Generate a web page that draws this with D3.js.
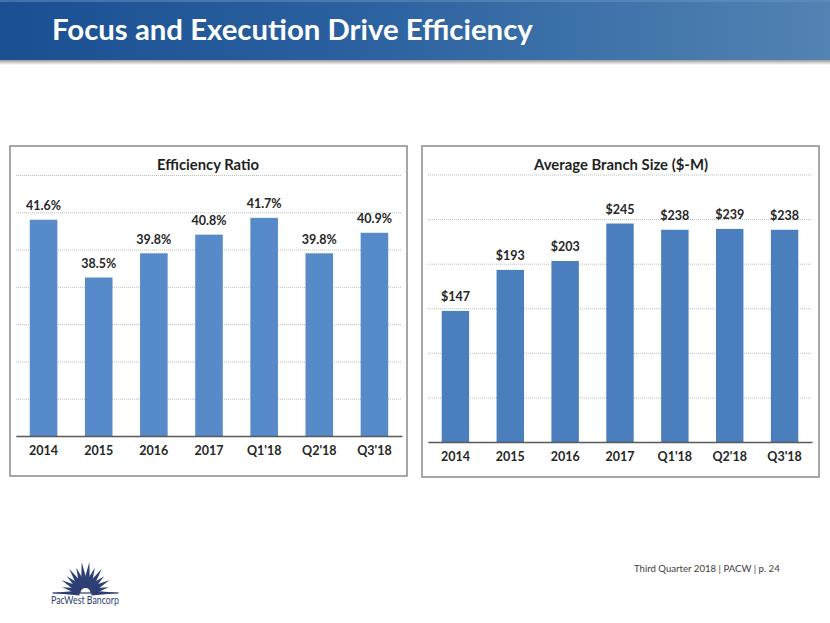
<!DOCTYPE html>
<html>
<head>
<meta charset="utf-8">
<script src="https://cdn.jsdelivr.net/npm/d3@7"></script>
<style>
  html, body { margin: 0; padding: 0; background: #fff; }
  svg { display: block; }
  text { font-family: Lato, "Open Sans", sans-serif; }
</style>
</head>
<body>
<svg id="chart" width="830" height="623"></svg>
<script>
// ---- Data ----
const categories = ["2014", "2015", "2016", "2017", "Q1'18", "Q2'18", "Q3'18"];
const efficiencyRatio = [41.6, 38.5, 39.8, 40.8, 41.7, 39.8, 40.9];
const branchSize = [147, 193, 203, 245, 238, 239, 238];
const efficiencyTicks = [30, 32, 34, 36, 38, 40, 42, 44];
const branchTicks = [0, 50, 100, 150, 200, 250, 300];
const slideTitle = "Focus and Execution Drive Efficiency";
const leftTitle = "Efficiency Ratio";
const rightTitle = "Average Branch Size ($-M)";
const footerText = "Third Quarter 2018 | PACW | p. 24";
const logoText = "PacWest Bancorp";

const svg = d3.select("#chart");
const defs = svg.append("defs");

function fitWidth(sel, target) {
  sel.each(function () {
    const fs = parseFloat(d3.select(this).attr("font-size"));
    const w = this.getComputedTextLength();
    if (w > 0) d3.select(this).attr("font-size", (fs * target / w).toFixed(2));
  });
}

// ---- Title bar ----
const g1 = defs.append("linearGradient").attr("id", "bar").attr("x1", 0).attr("x2", 1).attr("y1", 0).attr("y2", 0);
g1.append("stop").attr("offset", 0).attr("stop-color", "#1a4f92");
g1.append("stop").attr("offset", 0.45).attr("stop-color", "#2c62a0");
g1.append("stop").attr("offset", 1).attr("stop-color", "#5283b3");
const g2 = defs.append("linearGradient").attr("id", "shadow").attr("x1", 0).attr("x2", 0).attr("y1", 0).attr("y2", 1);
g2.append("stop").attr("offset", 0).attr("stop-color", "#9a9a9a");
g2.append("stop").attr("offset", 1).attr("stop-color", "#ffffff");

svg.append("rect").attr("x", 0).attr("y", 60).attr("width", 830).attr("height", 5).attr("fill", "url(#shadow)");
svg.append("rect").attr("x", 0).attr("y", 0).attr("width", 830).attr("height", 60).attr("fill", "url(#bar)");
svg.append("rect").attr("x", 0).attr("y", 0).attr("width", 830).attr("height", 2).attr("fill", "#6a94c0").attr("opacity", 0.5);

svg.append("text").attr("x", 52).attr("y", 40).attr("fill", "#ffffff")
  .attr("font-size", 28).attr("font-weight", "bold").text(slideTitle)
  .call(fitWidth, 481);

// ---- Chart builder ----
function drawChart(cfg) {
  const g = svg.append("g");
  g.append("rect").attr("x", cfg.box[0]).attr("y", cfg.box[1])
    .attr("width", cfg.box[2] - cfg.box[0]).attr("height", cfg.box[3] - cfg.box[1])
    .attr("fill", "#fff").attr("stroke", "#8a8a8a").attr("stroke-width", 1.5);

  const x = d3.scaleBand().domain(categories).range([cfg.left, cfg.right])
    .paddingInner(0.5).paddingOuter(0.25);
  const y = d3.scaleLinear().domain(cfg.domain).range([cfg.bottom, cfg.top]);

  // gridlines
  const grid = g.append("g").attr("transform", `translate(${cfg.left},0)`)
    .call(d3.axisLeft(y).tickValues(cfg.ticks).tickSize(-(cfg.right - cfg.left)).tickFormat(""));
  grid.select(".domain").remove();
  grid.selectAll(".tick line").attr("stroke", "#bdbdbd").attr("stroke-dasharray", "1,1").attr("stroke-width", 1);

  // bars
  g.selectAll("rect.bar").data(cfg.values).enter().append("rect")
    .attr("class", "bar")
    .attr("x", (d, i) => x(categories[i]))
    .attr("width", x.bandwidth())
    .attr("y", d => y(d))
    .attr("height", d => y(cfg.domain[0]) - y(d))
    .attr("fill", cfg.color);

  // baseline + category labels
  const ax = g.append("g").attr("transform", `translate(0,${cfg.bottom})`)
    .call(d3.axisBottom(x).tickSize(0).tickSizeOuter(0));
  ax.select(".domain").attr("stroke", "#595959").attr("stroke-width", 1.5);
  ax.selectAll(".tick text").attr("y", cfg.labelOffset).attr("dy", 0)
    .attr("font-family", "Lato, sans-serif").attr("font-size", 12.5).attr("font-weight", "bold").attr("fill", "#262626");

  // value labels
  g.selectAll("text.val").data(cfg.values).enter().append("text")
    .attr("class", "val")
    .attr("x", (d, i) => x(categories[i]) + x.bandwidth() / 2)
    .attr("y", d => y(d) - 9.5)
    .attr("text-anchor", "middle")
    .attr("font-size", 12.5).attr("font-weight", "bold").attr("fill", "#262626")
    .text(cfg.fmt);

  // chart title
  g.append("text").attr("x", cfg.titleX).attr("y", 170).attr("text-anchor", "middle")
    .attr("font-size", 16).attr("font-weight", "bold").attr("fill", "#1f1f1f")
    .text(cfg.title).call(fitWidth, cfg.titleWidth);
}

drawChart({
  box: [10, 146, 407, 476], left: 16, right: 402, top: 175, bottom: 436,
  domain: [30, 44], ticks: efficiencyTicks, values: efficiencyRatio,
  color: "#568ac9", labelOffset: 18.7, fmt: d => d.toFixed(1) + "%",
  title: leftTitle, titleX: 208, titleWidth: 102
});
drawChart({
  box: [422, 146, 819, 477], left: 428, right: 812, top: 174.5, bottom: 442,
  domain: [0, 300], ticks: branchTicks, values: branchSize,
  color: "#4b7ebc", labelOffset: 18.7, fmt: d => "$" + d,
  title: rightTitle, titleX: 621, titleWidth: 174
});

// ---- Footer ----
svg.append("text").attr("x", 634).attr("y", 572).attr("font-size", 11).attr("fill", "#404040")
  .text(footerText).call(fitWidth, 146);

// ---- Logo ----
const logo = svg.append("g").attr("transform", "translate(85.5,593)");
const navy = "#2d3f74";
const rays = [
  { a: 0, len: 33, w: 2.6 }, { a: 14, len: 24, w: 3.4 }, { a: 28, len: 27, w: 3.6 },
  { a: 42, len: 25, w: 3.6 }, { a: 56, len: 29, w: 3.8 }, { a: 70, len: 27, w: 3.8 },
  { a: 83, len: 31, w: 3.8 }, { a: 97, len: 31, w: 3.8 },
  { a: 110, len: 27, w: 3.8 }, { a: 124, len: 29, w: 3.8 }, { a: 138, len: 25, w: 3.6 },
  { a: 152, len: 27, w: 3.6 }, { a: 166, len: 24, w: 3.4 }, { a: 180, len: 33, w: 2.6 }
];
rays.forEach(r => {
  const t = r.a * Math.PI / 180;
  const c = Math.cos(t), s = -Math.sin(t);
  const px = -s, py = c;
  const r0 = 6;
  const bx = c * r0, by = s * r0;
  const tx = c * r.len, ty = s * r.len;
  logo.append("path")
    .attr("d", `M${bx + px * r.w},${by + py * r.w} L${tx},${ty} L${bx - px * r.w},${by - py * r.w} Z`)
    .attr("fill", navy);
});
logo.append("path").attr("d", "M-10,0 A10,10 0 0 1 10,0 Z").attr("fill", navy);
logo.append("path").attr("d", "M-5,0 A5,5 0 0 1 5,0 Z").attr("fill", "#fff");
logo.append("rect").attr("x", -33).attr("y", -0.6).attr("width", 66).attr("height", 1.2).attr("fill", navy);

svg.append("text").attr("x", 51).attr("y", 604)
  .attr("font-family", "'Liberation Serif', 'DejaVu Serif', serif")
  .attr("font-size", 11.5).attr("fill", navy)
  .attr("textLength", 68).attr("lengthAdjust", "spacingAndGlyphs")
  .text(logoText);
</script>
</body>
</html>
